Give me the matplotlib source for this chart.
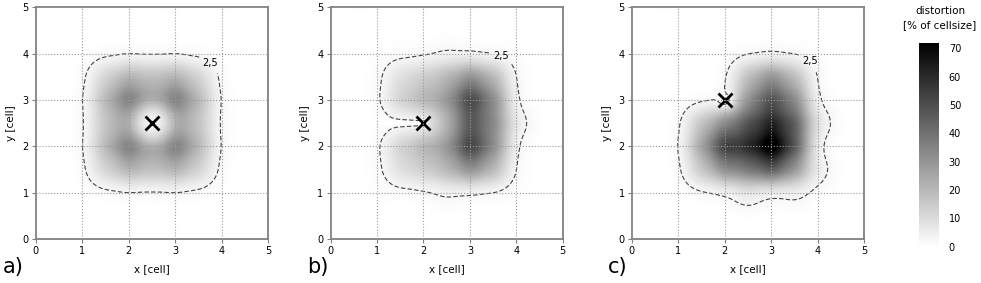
import numpy as np
import matplotlib.pyplot as plt

# half-cell nodes where the distortion weights are given
node_x = [1.0, 1.5, 2.0, 2.5, 3.0, 3.5, 4.0]
node_y = [4.0, 3.5, 3.0, 2.5, 2.0, 1.5, 1.0]

# distortion weights [% of cellsize], first row is y = 4
weights_a = [
    [0, 0.2, 0.2, 0.2, 0.2, 0.2, 0],
    [0.2, 8, 14, 11, 14, 8, 0.2],
    [0.2, 13, 27, 17, 27, 13, 0.2],
    [0.2, 10, 17, 0, 17, 10, 0.2],
    [0.2, 13, 27, 17, 27, 13, 0.2],
    [0.2, 8, 14, 11, 14, 8, 0.2],
    [0, 0.2, 0.2, 0.2, 0.2, 0.2, 0],
]
weights_b = [
    [0.3, 0.3, 0.3, 1.2, 0.3, 0.3, 0.3],
    [0.3, 6, 9, 13, 21, 13, 0.3],
    [0.3, 9, 14, 18, 37, 21, 0.3],
    [0, 0, 0, 12, 31, 21, 3.0],
    [0.3, 9, 14, 18, 38, 21, 0.3],
    [0.3, 6, 9, 13, 21, 13, 0.3],
    [0.3, 0.3, 0.3, 1.5, 0.3, 0.3, 0.3],
]
weights_c = [
    [0, 0, 0, 0.3, 0.3, 0.3, 0.3],
    [0, 0, 0, 12, 21, 12, 0.3],
    [0, 0, 0, 19, 33, 21, 0.3],
    [0, 11, 21, 30, 40, 30, 4],
    [0, 17, 38, 38, 54, 31, 0.3],
    [0, 10, 21, 24, 31, 19, 3],
    [0, 0.3, 0.3, 4, 0.3, 2, 0.3],
]

# moved point X of each case
point_a = (2.5, 2.5)
point_b = (2.0, 2.5)
point_c = (2.0, 3.0)

# lines where the distortion drops (start, end)
zero_a = [(point_a, point_a)]
zero_b = [((0.0, 2.5), point_b)]
zero_c = [(point_c, point_c)]

panel_names = ['a)', 'b)', 'c)']
cbar_ticks = [0, 10, 20, 30, 40, 50, 60, 70]
level = 2.5

g = np.linspace(0, 5, 401)
X, Y = np.meshgrid(g, g)


def make_field(weights, zeros, hole, depth):
    Z = np.zeros_like(X)
    for i, yy in enumerate(node_y):
        for j, xx in enumerate(node_x):
            Z += weights[i][j] * np.exp(-((X - xx)**2 + (Y - yy)**2) / (2 * 0.25**2))
    for (x0, y0), (x1, y1) in zeros:
        dx, dy = x1 - x0, y1 - y0
        L = dx * dx + dy * dy
        if L > 0:
            t = np.clip(((X - x0) * dx + (Y - y0) * dy) / L, 0, 1)
        else:
            t = 0
        d2 = (X - x0 - t * dx)**2 + (Y - y0 - t * dy)**2
        Z *= 1 - depth * np.exp(-d2 / (2 * hole**2))
    return Z


fig = plt.figure(figsize=(9.81, 2.83), dpi=100)
lefts = [35.7, 330.5, 631.7]
letter_x = [3, 307, 608]
cases = [(weights_a, zero_a, point_a, 0.3, 0.72, (3.85, 3.9)),
         (weights_b, zero_b, point_b, 0.05, 1.0, (3.7, 4.0)),
         (weights_c, zero_c, point_c, 0.12, 1.0, (3.9, 3.9))]

for k, (w, zr, pt, hole, depth, lab) in enumerate(cases):
    ax = fig.add_axes([lefts[k] / 981, 44 / 283, 232.3 / 981, 231.7 / 283])
    Z = make_field(w, zr, hole, depth)
    im = ax.imshow(Z, origin='lower', extent=(0, 5, 0, 5), cmap='gray_r',
                   vmin=0, vmax=72, interpolation='bilinear')
    cs = ax.contour(X, Y, Z, levels=[level], colors='#444444', linewidths=0.8,
                    linestyles=[(0, (4, 2))])
    txt = ax.clabel(cs, fmt={level: '2,5'}, fontsize=7, inline=True, manual=[lab],
                    colors='black')
    for t in txt:
        t.set_rotation(0)
    ax.plot(pt[0], pt[1], marker='x', ms=10, mew=2, color='black')
    ax.set_xlim(0, 5)
    ax.set_ylim(0, 5)
    ax.set_aspect('auto')
    ax.set_xticks(range(6))
    ax.set_yticks(range(6))
    ax.grid(True, linestyle=':', color='#999999', linewidth=0.8)
    ax.set_axisbelow(False)
    for s in ax.spines.values():
        s.set_color('#808080')
        s.set_linewidth(1.3)
    ax.tick_params(length=3, width=0.8, color='#808080', labelsize=7, pad=2)
    ax.set_xlabel('x [cell]', fontsize=7.5, labelpad=6)
    ax.set_ylabel('y [cell]', fontsize=7.5, labelpad=5)
    fig.text(letter_x[k] / 981, 0.02, panel_names[k], fontsize=15, va='bottom')

cax = fig.add_axes([919.3 / 981, 36.3 / 283, 19.7 / 981, 204 / 283])
cb = fig.colorbar(im, cax=cax, ticks=cbar_ticks)
cb.outline.set_visible(False)
cax.tick_params(length=0, labelsize=7, pad=7)
fig.text(940 / 981, 1 - 18 / 283, 'distortion\n[% of cellsize]', ha='center',
         va='center', fontsize=7.5, linespacing=1.5)

fig.savefig('out.png', dpi=100)
